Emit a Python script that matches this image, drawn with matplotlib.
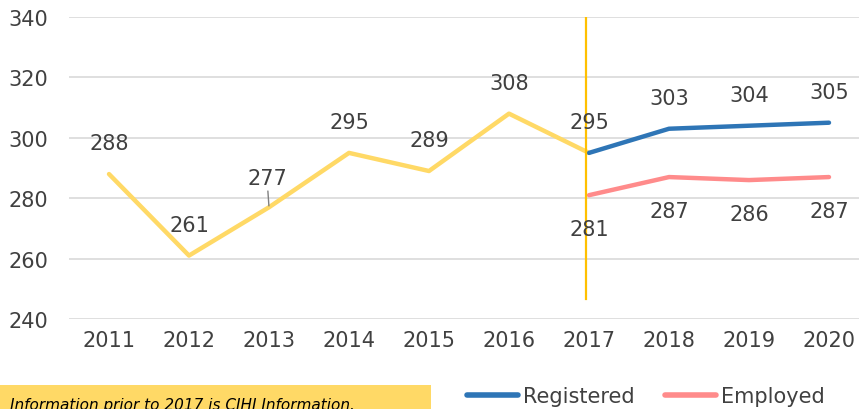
import matplotlib
matplotlib.use("Agg")
import matplotlib.pyplot as plt
from matplotlib.lines import Line2D
from matplotlib.patches import Rectangle

plt.rcParams['font.family'] = ['DejaVu Sans']

years = ['2011', '2012', '2013', '2014', '2015', '2016', '2017', '2018', '2019', '2020']
cihi_values = [288, 261, 277, 295, 289, 308, 295]
registered_values = [295, 303, 304, 305]
employed_values = [281, 287, 286, 287]
y_ticks = [240, 260, 280, 300, 320, 340]

YELLOW = '#FFD966'
BLUE = '#2E75B6'
PINK = '#FF8B8B'
TXT = '#404040'
GRID = '#D9D9D9'
FS = 15

W, H = 859, 410
fig = plt.figure(figsize=(W / 100, H / 100), dpi=100)
ax = fig.add_axes([69 / W, (H - 320) / H, 1 - 69 / W, (320 - 18) / H])

x_cihi = list(range(len(cihi_values)))
x_new = list(range(6, 6 + len(registered_values)))

ax.plot(x_cihi, cihi_values, color=YELLOW, lw=3.2, solid_capstyle='round', solid_joinstyle='round', zorder=3)
ax.plot(x_new, registered_values, color=BLUE, lw=3.2, solid_capstyle='round', solid_joinstyle='round', zorder=4)
ax.plot(x_new, employed_values, color=PINK, lw=3.2, solid_capstyle='round', solid_joinstyle='round', zorder=4)

ax.set_xlim(-0.5, 9.375)
ax.set_ylim(240, 340)
ax.set_yticks(y_ticks)
ax.set_xticks(range(len(years)))
ax.set_xticklabels(years)
ax.grid(axis='y', color=GRID, lw=1.2)
ax.set_axisbelow(True)
for s in ax.spines.values():
    s.set_visible(False)
ax.tick_params(length=0, labelsize=FS, colors=TXT)
ax.tick_params(axis='y', pad=15)
ax.tick_params(axis='x', pad=8)

# vertical divider
ax.axvline(5.96, ymin=0.066, ymax=1.0, color='#FFC000', lw=1.6, zorder=5)

def lab(x, y, dy, dx=0):
    ax.annotate(str(y), (x, y), xytext=(dx, dy), textcoords='offset pixels',
                ha='center', va='center', fontsize=FS, color=TXT, zorder=6)

for i, v in enumerate(cihi_values[:-1]):
    if i == 2:
        continue
    lab(x_cihi[i], v, 31)
# 2013 label with leader line
ax.annotate(str(cihi_values[2]), (x_cihi[2], cihi_values[2]), xytext=(-2, 29),
            textcoords='offset pixels', ha='center', va='center', fontsize=FS, color=TXT,
            arrowprops=dict(arrowstyle='-', color='#808080', lw=1, shrinkA=0, shrinkB=1), zorder=6)
for x, v in zip(x_new, registered_values):
    lab(x, v, 31)
for x, v in zip(x_new, employed_values):
    lab(x, v, -34)

# legend
handles = [Line2D([], [], color=BLUE, lw=4, solid_capstyle='round'),
           Line2D([], [], color=PINK, lw=4, solid_capstyle='round')]
fig.legend(handles, ['Registered', 'Employed'], loc='center left',
           bbox_to_anchor=(467 / W, 13 / H), ncol=2, frameon=False, fontsize=FS,
           handlelength=2.45, handletextpad=0.25, columnspacing=1.45,
           borderpad=0, borderaxespad=0, labelcolor=TXT)

# note box
fig.patches.append(Rectangle((0, 0), 431 / W, 24 / H, transform=fig.transFigure,
                             facecolor=YELLOW, edgecolor='none', zorder=0))
fig.text(10 / W, -3 / H, 'Information prior to 2017 is CIHI Information.',
         fontsize=11, style='italic', color='black', ha='left', va='bottom')

fig.savefig('out.png', dpi=100)
